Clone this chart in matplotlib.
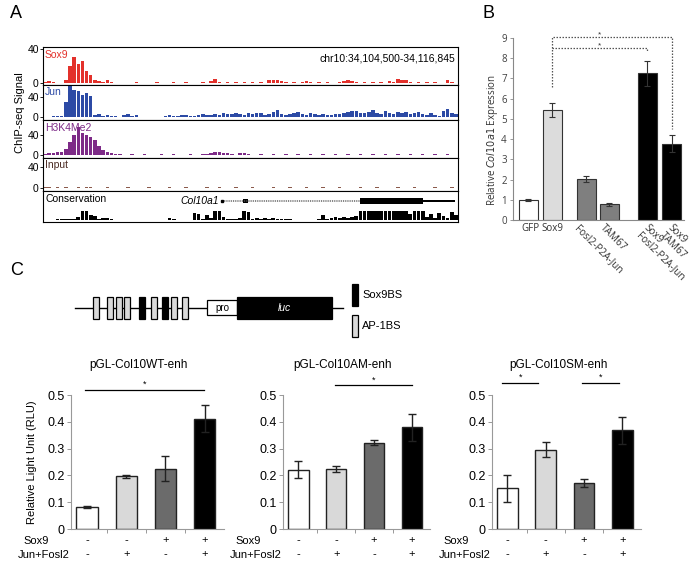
import matplotlib
matplotlib.use("Agg")
import matplotlib.pyplot as plt
from matplotlib.patches import Rectangle
import numpy as np

plt.rcParams['font.family'] = ['Liberation Sans', 'DejaVu Sans']

W, H = 699, 563

# ---------------- data ----------------
track_names = ["Sox9", "Jun", "H3K4Me2", "Input"]
track_colors = ["#e3312b", "#2c4aa5", "#7d2a87", "#8b5a4c"]
label_colors = ["#e3312b", "#2c4aa5", "#7d2a87", "#4a2a22"]

sox9_signal = [1, 2, 1, 0, 0, 4, 20, 31, 22, 26, 14, 9, 4, 2, 1, 3, 1, 0, 0, 0,
               0, 0, 1, 0, 0, 0, 0, 1, 0, 0, 0, 1, 0, 0, 1, 0, 0, 0, 1, 0,
               2, 5, 1, 0, 1, 0, 1, 0, 1, 0, 1, 0, 1, 0, 4, 3, 3, 2, 1, 0,
               1, 0, 1, 2, 1, 0, 1, 0, 1, 0, 0, 1, 2, 4, 2, 1, 0, 1, 0, 1,
               0, 1, 0, 2, 1, 5, 3, 3, 1, 0, 1, 0, 1, 0, 1, 0, 0, 3, 1, 0]
jun_signal = [0, 0, 2, 3, 2, 30, 62, 55, 52, 45, 48, 42, 5, 6, 3, 4, 2, 3, 0, 4,
              6, 3, 5, 1, 0, 0, 0, 0, 0, 3, 4, 3, 2, 4, 5, 3, 2, 4, 6, 5,
              4, 6, 5, 8, 7, 6, 9, 7, 5, 8, 6, 9, 8, 5, 7, 10, 14, 6, 5, 7,
              9, 11, 6, 5, 8, 7, 4, 6, 5, 4, 6, 7, 9, 11, 13, 12, 9, 8, 10, 15,
              9, 7, 12, 8, 6, 10, 9, 11, 7, 8, 10, 6, 5, 8, 4, 3, 12, 16, 9, 6]
h3k4_signal = [2, 4, 4, 5, 6, 12, 26, 40, 56, 44, 40, 36, 30, 18, 10, 6, 4, 2, 1, 0,
               0, 1, 0, 0, 1, 0, 0, 0, 1, 0, 0, 1, 0, 0, 0, 1, 0, 0, 1, 2,
               4, 6, 5, 4, 3, 1, 0, 3, 3, 1, 0, 0, 1, 0, 0, 1, 0, 0, 1, 0,
               0, 1, 0, 0, 1, 0, 0, 1, 0, 0, 1, 0, 0, 1, 0, 0, 1, 0, 0, 1,
               0, 0, 1, 0, 0, 1, 0, 0, 1, 0, 0, 1, 0, 0, 1, 0, 0, 1, 0, 0]
input_signal = [1, 1, 0, 1, 0, 1, 0, 0, 1, 0, 1, 1, 0, 0, 0, 1, 0, 0, 0, 0,
                1, 0, 0, 0, 0, 1, 0, 0, 0, 0, 1, 0, 0, 0, 1, 0, 0, 0, 0, 1,
                0, 0, 1, 0, 0, 0, 1, 0, 0, 0, 1, 0, 0, 0, 0, 1, 0, 0, 0, 1,
                0, 0, 0, 1, 0, 0, 0, 1, 0, 0, 0, 1, 0, 0, 0, 0, 1, 0, 0, 0,
                1, 0, 0, 0, 0, 1, 0, 0, 0, 1, 0, 0, 0, 0, 1, 0, 0, 0, 1, 0]
track_signals = [sox9_signal, jun_signal, h3k4_signal, input_signal]

conservation = [0.03, 0.03, 0.03, 0.04, 0.05, 0.05, 0.06, 0.1, 0.3, 1.0,
                1.0, 0.5, 0.45, 0.05, 0.15, 0.2, 0.05, 0.03, 0.03, 0.03,
                0.03, 0.03, 0.03, 0.03, 0.03, 0.03, 0.03, 0.03, 0.03, 0.03,
                0.15, 0.05, 0.03, 0.03, 0.03, 0.03, 0.75, 0.7, 0.1, 0.5,
                0.2, 1.0, 0.95, 0.3, 0.1, 0.05, 0.05, 0.2, 1.0, 0.9,
                0.1, 0.25, 0.1, 0.15, 0.05, 0.2, 0.05, 0.05, 0.05, 0.05,
                0.03, 0.03, 0.03, 0.03, 0.03, 0.03, 0.1, 0.5, 0.1, 0.15,
                0.3, 0.2, 0.35, 0.25, 0.3, 0.4, 1.0, 1.0, 1.0, 1.0,
                1.0, 1.0, 1.0, 1.0, 1.0, 1.0, 1.0, 1.0, 0.6, 1.0,
                1.0, 1.0, 0.3, 0.6, 0.2, 0.8, 0.4, 0.2, 0.9, 0.5]

# gene model (bin coordinates)
gene_start, gene_end = 43.1, 99.3
small_exon = (48.2, 49.4)
big_exon = (76.4, 91.6)

# panel B
b_labels = ["GFP", "Sox9", "Fosl2-P2A-Jun", "TAM67", "Sox9\nFosl2-P2A-Jun", "Sox9\nTAM67"]
b_values = [1.0, 5.42, 2.05, 0.77, 7.25, 3.78]
b_errors = [0.05, 0.35, 0.15, 0.08, 0.6, 0.4]
b_colors = ["white", "#dcdcdc", "#7f7f7f", "#7f7f7f", "black", "black"]
b_pos = [0, 1, 2.4, 3.35, 4.9, 5.92]

# panel C
luc_titles = ["pGL-Col10WT-enh", "pGL-Col10AM-enh", "pGL-Col10SM-enh"]
luc_values = [[0.082, 0.196, 0.225, 0.412],
              [0.222, 0.224, 0.322, 0.38],
              [0.152, 0.295, 0.17, 0.368]]
luc_errors = [[0.003, 0.005, 0.047, 0.05],
              [0.03, 0.012, 0.01, 0.05],
              [0.05, 0.028, 0.015, 0.05]]
luc_colors = ["white", "#d9d9d9", "#6b6b6b", "black"]
sox9_row = ["-", "-", "+", "+"]
jun_row = ["-", "+", "-", "+"]
sig_bars = [[(-0.05, 2.98)], [(0.96, 3.0)], [(-0.13, 0.81), (1.96, 2.92)]]
sig_y = [0.52, 0.537, 0.545]

enh_sites = ["AP", "AP", "AP", "AP", "S", "AP", "S", "AP", "AP"]
enh_x = [92.7, 106.7, 115.7, 124.0, 139.0, 151.0, 162.3, 170.7, 181.7]


def rect(x0, y0, x1, y1):
    return [x0 / W, 1 - y1 / H, (x1 - x0) / W, (y1 - y0) / H]


def ftext(x, y, s, **kw):
    fig.text(x / W, 1 - y / H, s, **kw)


fig = plt.figure(figsize=(W / 100, H / 100), dpi=100)

# ---------------- panel A ----------------
ftext(10, 14, "A", fontsize=13, va='center', ha='left')
ftext(483, 14, "B", fontsize=13, va='center', ha='left')
ftext(10, 271, "C", fontsize=13, va='center', ha='left')

track_px = [(47, 85), (85, 120), (120, 158), (158, 191)]
track_ylim = [(-2.3, 42.3), (-6, 64), (-6, 70), (-5.7, 57)]
bins = np.arange(100) + 0.5
for i in range(4):
    y0, y1 = track_px[i]
    ax = fig.add_axes(rect(43, y0, 458, y1))
    ax.bar(bins, track_signals[i], width=0.85, color=track_colors[i], linewidth=0)
    ax.set_xlim(0, 100)
    ax.set_ylim(*track_ylim[i])
    ax.set_xticks([])
    ax.set_yticks([0, 40])
    ax.set_yticklabels(["0", "40"], fontsize=7.5)
    ax.tick_params(axis='y', length=2, width=0.6, pad=1)
    for s in ax.spines.values():
        s.set_linewidth(0.8)
    ax.text(0.005, 0.93, track_names[i], transform=ax.transAxes, fontsize=7.5,
            color=label_colors[i], va='top', ha='left')
    if i == 0:
        ax.text(0.993, 0.82, "chr10:34,104,500-34,116,845", transform=ax.transAxes,
                fontsize=7.5, va='top', ha='right')

ftext(20, 113, "ChIP-seq Signal", fontsize=8, rotation=90, va='center', ha='center')

axc = fig.add_axes(rect(43, 191, 458, 222))
axc.bar(bins, conservation, width=0.9, color='black', linewidth=0)
axc.set_xlim(0, 100)
axc.set_ylim(-0.25, 3.25)
axc.set_xticks([])
axc.set_yticks([])
for s in axc.spines.values():
    s.set_linewidth(0.8)
axc.text(0.005, 0.9, "Conservation", transform=axc.transAxes, fontsize=7.5, va='top')
gy = 2.12
axc.plot([gene_start, big_exon[0]], [gy, gy], color='#555555', lw=1.1, ls=(0, (0.6, 0.6)))
axc.plot([gene_start], [gy], marker='s', ms=1.5, color='black')
axc.add_patch(Rectangle((small_exon[0], gy - 0.25), small_exon[1] - small_exon[0], 0.5,
                        color='black', lw=0))
axc.add_patch(Rectangle((big_exon[0], gy - 0.37), big_exon[1] - big_exon[0], 0.74,
                        color='black', lw=0))
axc.add_patch(Rectangle((big_exon[1], gy - 0.15), gene_end - big_exon[1], 0.3,
                        color='black', lw=0))
axc.text(gene_start - 0.8, gy, "Col10a1", fontsize=7.5, style='italic', ha='right', va='center')

# ---------------- panel B ----------------
axb = fig.add_axes(rect(513, 38, 684, 220))
axb.bar(b_pos, b_values, width=0.78, color=b_colors, edgecolor='#333333', linewidth=0.8,
        yerr=b_errors, error_kw=dict(ecolor='#333333', elinewidth=0.8, capsize=2.5, capthick=0.8))
axb.set_xlim(-0.62, 6.42)
axb.set_ylim(0, 9)
axb.set_yticks(range(10))
axb.set_yticklabels([str(v) for v in range(10)], fontsize=7, color='#404040', family='Open Sans')
axb.set_xticks([])
axb.tick_params(axis='y', length=2.5, width=0.6, color='#888888', pad=2)
for side in ['top', 'right']:
    axb.spines[side].set_visible(False)
for side in ['left', 'bottom']:
    axb.spines[side].set_color('#888888')
    axb.spines[side].set_linewidth(0.8)
ftext(492, 140, r"Relative $\mathit{Col10a1}$ Expression", fontsize=7, rotation=90,
      va='center', ha='center', color='#333333', family='Open Sans')

tr = axb.get_xaxis_transform()
axb.text(b_pos[0] + 0.1, -0.015, b_labels[0], transform=tr, fontsize=7, ha='center', va='top',
         color='#333333', family='Open Sans')
axb.text(b_pos[1] + 0.02, -0.015, b_labels[1], transform=tr, fontsize=7, ha='center', va='top',
         color='#333333', family='Open Sans')
offs = [0, 0, -0.25, -0.15, 0.1, 0.05]
for k in range(2, 6):
    axb.text(b_pos[k] + offs[k], -0.015, b_labels[k], transform=tr, fontsize=7.2, ha='left',
             va='top', rotation=-45, rotation_mode='anchor', color='#333333',
             family='Open Sans', linespacing=0.95)

dot = dict(color='#555555', lw=0.9, ls=(0, (1.2, 1.2)), clip_on=False)
axb.plot([b_pos[1], b_pos[1], b_pos[5], b_pos[5]], [6.6, 9.05, 9.05, 4.5], **dot)
axb.plot([b_pos[1], b_pos[4], b_pos[4]], [8.5, 8.5, 8.3], **dot)
axb.text(2.95, 9.0, "*", fontsize=6, ha='center', va='bottom', color='#333333')
axb.text(2.95, 8.45, "*", fontsize=6, ha='center', va='bottom', color='#333333')

# ---------------- panel C diagram ----------------
axd = fig.add_axes([0, 0, 1, 1])
axd.set_xlim(0, W)
axd.set_ylim(H, 0)
axd.axis('off')
axd.plot([75, 343], [308, 308], color='black', lw=1.0, zorder=1)
for xs, kind in zip(enh_x, enh_sites):
    fc = 'black' if kind == "S" else '#d9d9d9'
    axd.add_patch(Rectangle((xs, 297), 6, 22, facecolor=fc, edgecolor='black', lw=0.9, zorder=2))
axd.add_patch(Rectangle((207, 300), 30, 15, facecolor='white', edgecolor='black', lw=0.9, zorder=2))
axd.text(222, 308, "pro", fontsize=7, ha='center', va='center', zorder=3)
axd.add_patch(Rectangle((237, 296.5), 95, 22.5, facecolor='black', edgecolor='black', lw=0.9, zorder=2))
axd.text(284, 308, "luc", fontsize=7.5, ha='center', va='center', color='white', style='italic', zorder=3)
axd.add_patch(Rectangle((351.5, 284), 6.5, 22, facecolor='black', edgecolor='black', lw=0.9))
axd.text(362, 295, "Sox9BS", fontsize=8, ha='left', va='center')
axd.add_patch(Rectangle((352, 315), 6, 22, facecolor='#d9d9d9', edgecolor='black', lw=0.9))
axd.text(362, 326, "AP-1BS", fontsize=8, ha='left', va='center')

# ---------------- panel C bar charts ----------------
chart_x = [71, 283, 491.7]
chart_w = [152.5, 147, 149]
title_x = [138, 343, 558]
for c in range(3):
    ax = fig.add_axes(rect(chart_x[c], 395, chart_x[c] + chart_w[c], 529))
    xs = np.arange(4)
    ax.bar(xs, luc_values[c], width=0.54, color=luc_colors, edgecolor='#222222', linewidth=1.0,
           yerr=luc_errors[c], error_kw=dict(ecolor='#222222', elinewidth=1.0, capsize=3, capthick=1.0))
    ax.set_xlim(-0.41, 3.48)
    ax.set_ylim(0, 0.5)
    ax.set_yticks([0, 0.1, 0.2, 0.3, 0.4, 0.5])
    ax.set_yticklabels(["0", "0.1", "0.2", "0.3", "0.4", "0.5"], fontsize=9)
    ax.set_xticks([0.5, 1.5, 2.5])
    ax.set_xticklabels([])
    ax.tick_params(axis='both', length=3, width=0.7, color='#999999', pad=1.5)
    for side in ['top', 'right']:
        ax.spines[side].set_visible(False)
    for side in ['left', 'bottom']:
        ax.spines[side].set_color('#999999')
        ax.spines[side].set_linewidth(0.8)
    for x0, x1 in sig_bars[c]:
        ax.plot([x0, x1], [sig_y[c], sig_y[c]], color='black', lw=0.9, clip_on=False)
        ax.text((x0 + x1) / 2, sig_y[c] + 0.003, "*", fontsize=6.5, ha='center', va='bottom')
    ftext(title_x[c], 365, luc_titles[c], fontsize=8.5, ha='center', va='center')
    tr = ax.get_xaxis_transform()
    for k in range(4):
        ax.text(k, -0.085, sox9_row[k], transform=tr, fontsize=8, ha='center', va='center')
        ax.text(k, -0.19, jun_row[k], transform=tr, fontsize=8, ha='center', va='center')
    ftext(chart_x[c] - 48, 541, "Sox9", fontsize=8, ha='left', va='center')
    ftext(chart_x[c] - 53, 555, "Jun+Fosl2", fontsize=8, ha='left', va='center')

ftext(32, 462, "Relative Light Unit (RLU)", fontsize=8, rotation=90, ha='center', va='center')

fig.savefig("out.png", dpi=100)
